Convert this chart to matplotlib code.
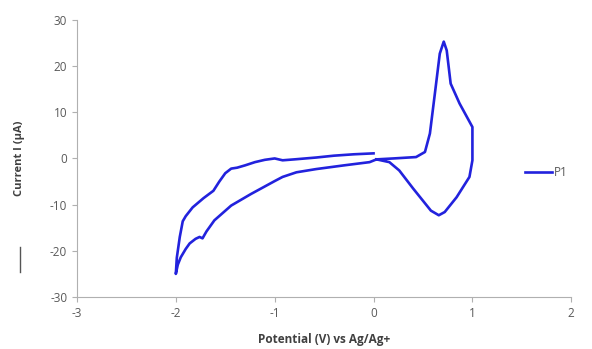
import matplotlib.pyplot as plt
from matplotlib.lines import Line2D

# CV trace P1: start at 0 V, sweep to -2 V, back through 0 to +1 V, back to 0 V
potential = [0.0, -0.2, -0.4, -0.58, -0.8, -0.92, -1.0, -1.1, -1.2, -1.3, -1.38, -1.44,
             -1.5, -1.56, -1.62, -1.72, -1.83, -1.9, -1.93, -1.96, -1.99, -2.0,
             -1.98, -1.95, -1.9, -1.86, -1.8, -1.76, -1.73, -1.69, -1.61, -1.44, -1.24,
             -1.0, -0.92, -0.78, -0.58, -0.3, -0.04, 0.03, 0.2, 0.43, 0.52, 0.57, 0.62,
             0.67, 0.71, 0.74, 0.78, 0.87, 1.0, 1.0, 0.97, 0.84, 0.72, 0.66, 0.58,
             0.4, 0.26, 0.16, 0.03]
current = [1.1, 0.9, 0.6, 0.2, -0.2, -0.4, 0.0, -0.3, -0.8, -1.5, -2.0, -2.2,
           -3.2, -5.0, -7.0, -8.6, -10.6, -12.5, -13.6, -17.0, -21.5, -25.0,
           -23.0, -21.4, -19.6, -18.4, -17.4, -17.0, -17.3, -15.8, -13.4, -10.2, -7.7,
           -4.9, -4.0, -3.0, -2.3, -1.5, -0.8, -0.2, 0.0, 0.3, 1.4, 5.4, 14.0,
           22.7, 25.3, 23.4, 16.2, 11.9, 6.8, -0.4, -4.0, -8.4, -11.6, -12.3, -11.3,
           -6.5, -2.6, -0.8, -0.2]

x_ticks = [-3, -2, -1, 0, 1, 2]
y_ticks = [-30, -20, -10, 0, 10, 20, 30]

plt.rcParams['font.family'] = ['Open Sans', 'DejaVu Sans']
plt.rcParams['axes.unicode_minus'] = False

fig = plt.figure(figsize=(5.92, 3.49), dpi=100)
ax = fig.add_axes([0.130, 0.149, 0.835, 0.794])

ax.plot(potential, current, color="#2222dd", linewidth=1.9, label="P1",
        solid_joinstyle="round")

ax.set_xlim(-3, 2)
ax.set_ylim(-30, 30)
ax.set_xticks(x_ticks)
ax.set_yticks(y_ticks)

for s in ["top", "right"]:
    ax.spines[s].set_visible(False)
for s in ["left", "bottom"]:
    ax.spines[s].set_color("#b0b0b0")
    ax.spines[s].set_linewidth(0.8)
ax.tick_params(colors="#b0b0b0", labelcolor="#595959", labelsize=8.5, length=3.5, width=0.8)

ax.set_xlabel("Potential (V) vs Ag/Ag+", fontsize=8.5, fontweight="bold", color="#404040")
ax.set_ylabel("Current I (µA)", fontsize=8, fontweight="bold", color="#404040")
ax.xaxis.set_label_coords(0.5, -0.13)
ax.yaxis.set_label_coords(-0.105, 0.5)

ax.legend(loc="center left", bbox_to_anchor=(0.885, 0.45), frameon=False,
          fontsize=8.5, handlelength=2.3, handletextpad=0.1, labelcolor="#595959")

# small stray mark on the left of the original
fig.add_artist(Line2D([20 / 592, 20 / 592], [1 - 247 / 349, 1 - 272 / 349],
                      color="#555555", linewidth=1.0))

fig.savefig("out.png", dpi=100)
